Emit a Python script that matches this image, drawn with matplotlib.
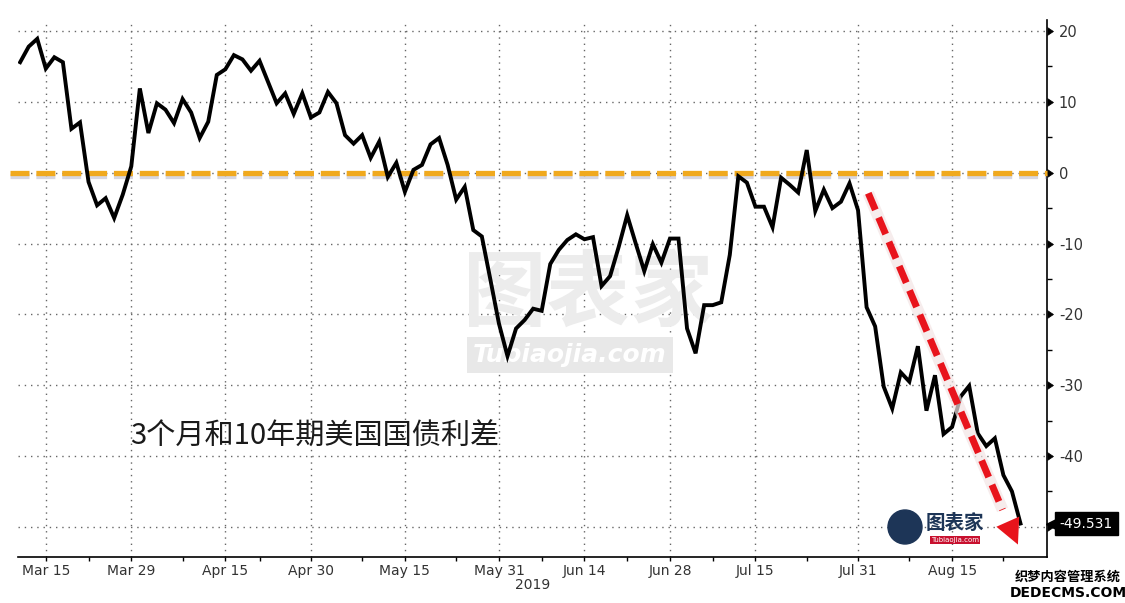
# -*- coding: utf-8 -*-
"""3个月和10年期美国国债利差 -- Bloomberg style line chart, Mar-Aug 2019."""
import numpy as np
import pandas as pd
import matplotlib
matplotlib.use("Agg")
import matplotlib.pyplot as plt
import matplotlib.patheffects as pe
import matplotlib.transforms as mtransforms
from matplotlib.markers import CARETRIGHTBASE
from matplotlib.patches import Ellipse

plt.rcParams["axes.unicode_minus"] = False
CJK = ["Noto Sans CJK SC", "DejaVu Sans"]

# US bond market business days (Good Friday, Memorial Day, July 4th closed)
HOLIDAYS = ["2019-04-19", "2019-05-27", "2019-07-04"]
dates = pd.bdate_range("2019-03-12", "2019-08-27", freq="C", holidays=HOLIDAYS)

# spread in bp
spread = [
    15.6, 17.8, 18.9, 14.7, 16.3, 15.6, 6.2, 7.1, -1.3, -4.6,
    -3.6, -6.4, -3.1, 0.9, 11.9, 5.6, 9.8, 8.9, 7.0, 10.4,
    8.5, 4.9, 7.2, 13.8, 14.6, 16.6, 16.0, 14.4, 15.8, 12.8,
    9.8, 11.2, 8.3, 11.2, 7.8, 8.5, 11.4, 9.8, 5.3, 4.1,
    5.3, 2.1, 4.4, -0.6, 1.4, -2.7, 0.4, 1.1, 4.0, 4.9,
    1.1, -3.8, -2.0, -8.1, -9.0, -15.1, -21.3, -25.9, -22.0, -20.8,
    -19.2, -19.5, -12.9, -10.9, -9.5, -8.7, -9.4, -9.1, -16.0, -14.6,
    -10.5, -6.0, -10.0, -13.9, -10.1, -12.7, -9.3, -9.3, -22.0, -25.5,
    -18.7, -18.7, -18.3, -11.6, -0.5, -1.4, -4.8, -4.8, -7.7, -0.7,
    -1.7, -2.8, 3.2, -5.4, -2.4, -5.0, -4.1, -1.5, -5.3, -19.0,
    -21.7, -30.2, -33.3, -28.2, -29.5, -24.5, -33.6, -28.6, -36.9, -35.9,
    -31.6, -30.1, -36.8, -38.6, -37.5, -42.7, -45.0, -49.531,
]

TICK_DATES = ["2019-03-15", "2019-03-29", "2019-04-15", "2019-04-30", "2019-05-15",
              "2019-05-31", "2019-06-14", "2019-06-28", "2019-07-15", "2019-07-31",
              "2019-08-15"]
TICK_LABELS = ["Mar 15", "Mar 29", "Apr 15", "Apr 30", "May 15", "May 31",
               "Jun 14", "Jun 28", "Jul 15", "Jul 31", "Aug 15"]
MINOR_DATES = ["2019-03-22", "2019-04-08", "2019-04-22", "2019-05-08", "2019-05-23",
               "2019-06-07", "2019-06-21", "2019-07-08", "2019-07-23", "2019-08-08",
               "2019-08-23"]
Y_MAJOR = [-50, -40, -30, -20, -10, 0, 10, 20]
Y_MINOR = [-45, -35, -25, -15, -5, 5, 15]

TITLE = "3个月和10年期美国国债利差"
ORANGE = "#F0A91E"
RED = "#E8141C"
TXT = "#333333"

# hand-drawn trend arrow (data coords: business-day index, bp)
ARROW_START = (99.2, -2.9)
ARROW_NECK = (114.9, -47.6)
ARROW_TIP = (116.7, -52.5)

W, H = 1125, 603
fig = plt.figure(figsize=(W / 100, H / 100), dpi=100)
ax = fig.add_axes([18 / W, 1 - 557 / H, (1047 - 18) / W, (557 - 20) / H])

x = np.arange(len(dates))
ax.plot(x, spread, color="black", lw=2.8, zorder=4, solid_joinstyle="miter")
ax.set_xlim(-0.25, 120.1)
ax.set_ylim(-54.26, 21.56)

# axes / ticks
for s in ("left", "top"):
    ax.spines[s].set_visible(False)
for s in ("right", "bottom"):
    ax.spines[s].set_color("black")
    ax.spines[s].set_linewidth(1.2)

ax.set_xticks([dates.get_loc(pd.Timestamp(d)) for d in TICK_DATES])
ax.set_xticklabels(TICK_LABELS)
ax.set_xticks([dates.get_loc(pd.Timestamp(d)) for d in MINOR_DATES], minor=True)
ax.tick_params(axis="x", which="both", direction="out", length=3, width=1,
               color="black", labelcolor=TXT, labelsize=10, pad=2)

ax.yaxis.tick_right()
ax.set_yticks(Y_MAJOR)
ax.set_yticklabels(["" if v == -50 else str(v) for v in Y_MAJOR])
ax.set_yticks(Y_MINOR, minor=True)
ax.tick_params(axis="y", which="major", length=6, width=0.5, color="black",
               labelcolor=TXT, labelsize=10.5, pad=2.5)
ax.tick_params(axis="y", which="minor", length=3.5, width=1, color="black")
for t in ax.yaxis.get_major_ticks():
    t.tick2line.set_marker(CARETRIGHTBASE)

ax.set_axisbelow(True)
ax.grid(True, which="major", color="#666666", linestyle=(0, (1, 3.5)), lw=1)

# zero line with shadow
ax.axhline(0, xmin=-0.008, xmax=1, color=ORANGE, lw=3.8, dashes=(3.6, 1.3),
           zorder=3, clip_on=False,
           path_effects=[pe.SimpleLineShadow(offset=(0, -2.5), shadow_color="#7a7a9a", alpha=0.3),
                         pe.Normal()])

# red trend arrow
ax.plot([ARROW_START[0], ARROW_NECK[0]], [ARROW_START[1], ARROW_NECK[1]],
        color="#f3e4e4", lw=8.5, solid_capstyle="butt", zorder=4.5, alpha=0.7)
ax.plot([ARROW_START[0], ARROW_NECK[0]], [ARROW_START[1], ARROW_NECK[1]],
        color=RED, lw=5, dashes=(2.6, 1.2), zorder=5)
ax.annotate("", xy=ARROW_TIP, xytext=ARROW_NECK,
            arrowprops=dict(arrowstyle="-|>,head_length=0.9,head_width=0.45",
                            color=RED, lw=0, mutation_scale=20,
                            shrinkA=0, shrinkB=0), zorder=5)

# last value tag
last = spread[-1]
tr = mtransforms.blended_transform_factory(ax.transAxes, ax.transData)
ax.plot([1.0045], [last], marker="<", ms=9, color="black", transform=tr,
        clip_on=False, zorder=6)
ax.text(1.0125, last, f"{last:.3f}", transform=tr, ha="left", va="center",
        fontsize=10, color="white", zorder=7, clip_on=False,
        bbox=dict(boxstyle="square,pad=0.35", fc="black", ec="black"))

# texts
fig.text(533 / W, 1 - 585 / H, "2019", ha="center", va="center", fontsize=10, color=TXT)
fig.text(130 / W, 1 - 437 / H, TITLE, ha="left", va="center", fontsize=21,
         color="#1a1a1a", family=CJK)

# watermarks
ax.text(588 / W, 1 - 295 / H, "图表家", transform=fig.transFigure, ha="center",
        va="center", fontsize=60, fontweight="bold", color="#ececec", family=CJK,
        zorder=1)
ax.text(570 / W, 1 - 355 / H, "Tubiaojia.com", transform=fig.transFigure, ha="center",
        va="center", fontsize=18, fontweight="bold", style="italic", color="white",
        zorder=1, bbox=dict(boxstyle="square,pad=0.25", fc="#e8e8e8", ec="none"))
fig.add_artist(Ellipse((905 / W, 1 - 527 / H), 34 / W, 34 / H,
                       transform=fig.transFigure, color="#1d3557", zorder=3))
fig.text(955 / W, 1 - 523 / H, "图表家", ha="center", va="center", fontsize=14,
         fontweight="bold", color="#1d3557", family=CJK)
fig.text(955 / W, 1 - 540 / H, "Tubiaojia.com", ha="center", va="center", fontsize=5,
         color="white", bbox=dict(boxstyle="square,pad=0.2", fc="#c8102e", ec="none"))
fig.text(1068 / W, 1 - 577 / H, "织梦内容管理系统", ha="center", va="center",
         fontsize=9.5, fontweight="bold", color="black", family=CJK)
fig.text(1068 / W, 1 - 593 / H, "DEDECMS.COM", ha="center", va="center",
         fontsize=10, fontweight="bold", color="black")

fig.savefig("out.png", dpi=100, facecolor="white")
